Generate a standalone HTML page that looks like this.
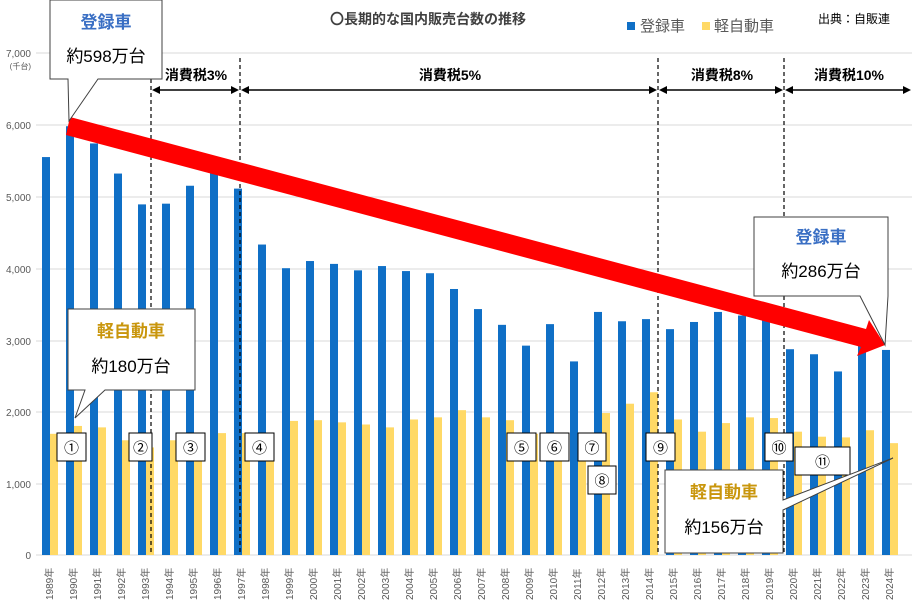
<!DOCTYPE html>
<html><head><meta charset="utf-8"><style>
html,body{margin:0;padding:0;background:#fff;}
svg{display:block;font-family:"Liberation Sans","Noto Sans CJK JP",sans-serif;}
</style></head><body>
<svg id="s" width="912" height="608" viewBox="0 0 912 608" xmlns="http://www.w3.org/2000/svg">
<rect width="912" height="608" fill="#fff"/>
<g id="grid" stroke="#d9d9d9" stroke-width="1"></g>
<g id="bars"></g>
<g id="xl" font-size="10" fill="#595959"></g>
<g font-size="10" fill="#595959" text-anchor="end">
<text x="31" y="57">7,000</text><text x="31" y="69" font-size="8">(千台)</text>
<text x="31" y="129">6,000</text><text x="31" y="201">5,000</text><text x="31" y="273">4,000</text>
<text x="31" y="345">3,000</text><text x="31" y="416">2,000</text><text x="31" y="488">1,000</text><text x="31" y="559">0</text>
</g>
<text x="330" y="24" font-size="14" fill="#404040" font-weight="bold">〇長期的な国内販売台数の推移</text>
<rect x="627" y="22" width="8" height="8" fill="#0f6fc6"/>
<text x="640" y="31" font-size="15" fill="#595959">登録車</text>
<rect x="702" y="22" width="8" height="8" fill="#ffd966"/>
<text x="714" y="31" font-size="15" fill="#595959">軽自動車</text>
<text x="818" y="23" font-size="12" fill="#000">出典：自販連</text>
<g stroke="#000" stroke-dasharray="4,3" stroke-width="1.2">
<line x1="151" y1="58" x2="151" y2="555"/><line x1="240" y1="58" x2="240" y2="555"/>
<line x1="658" y1="58" x2="658" y2="555"/><line x1="784" y1="58" x2="784" y2="555"/>
</g>
<g stroke="#000" stroke-width="1.5">
<line x1="154" y1="90" x2="237" y2="90"/><line x1="243" y1="90" x2="655" y2="90"/>
<line x1="661" y1="90" x2="781" y2="90"/><line x1="787" y1="90" x2="908" y2="90"/>
</g>
<g fill="#000">
<polygon points="152,90 160,86 160,94"/><polygon points="239,90 231,86 231,94"/>
<polygon points="241,90 249,86 249,94"/><polygon points="657,90 649,86 649,94"/>
<polygon points="659,90 667,86 667,94"/><polygon points="783,90 775,86 775,94"/>
<polygon points="785,90 793,86 793,94"/><polygon points="911,90 903,86 903,94"/>
</g>
<g font-size="14" font-weight="bold" text-anchor="middle" fill="#000">
<text x="196" y="80">消費税3%</text><text x="450" y="80">消費税5%</text>
<text x="722" y="80">消費税8%</text><text x="849" y="80">消費税10%</text>
</g>
<polygon points="70,117 866,329 869,320 885,345 857,356 861,347 66,135" fill="#ff0000"/>
<g id="nums" font-size="15" text-anchor="middle"></g>
<g stroke="#404040" stroke-width="1" fill="#fff">
<polygon points="50,0 162,0 162,79 98,79 69,121 68,79 50,79"/>
<polygon points="68,309 195,309 195,390 105,390 75,418 85,390 68,390"/>
<polygon points="754,217 888,217 888,296 885,345 860,296 754,296"/>
<polygon points="665,470 783,470 783,500 893,458 783,510 783,553 665,553"/>
</g>
<g font-weight="bold" font-size="17" text-anchor="middle">
<text x="106" y="28" fill="#3a6fc4">登録車</text>
<text x="131" y="337" fill="#c9960c">軽自動車</text>
<text x="821" y="243" fill="#3a6fc4">登録車</text>
<text x="724" y="498" fill="#c9960c">軽自動車</text>
</g>
<g font-size="17" text-anchor="middle" fill="#000">
<text x="106" y="62">約598万台</text>
<text x="131" y="372">約180万台</text>
<text x="821" y="277">約286万台</text>
<text x="724" y="533">約156万台</text>
</g>
</svg>
<script>
var s='http://www.w3.org/2000/svg';
function el(p,t,a,txt){var e=document.createElementNS(s,t);for(var k in a)e.setAttribute(k,a[k]);if(txt)e.textContent=txt;document.getElementById(p).appendChild(e);return e;}
[53,125,197,269,341,412,484,555].forEach(function(y){el('grid','line',{x1:36,x2:912,y1:y,y2:y});});
var B=[5550,5980,5740,5320,4890,4900,5150,5340,5110,4330,4000,4100,4060,3970,4030,3960,3930,3710,3430,3210,2920,3220,2700,3390,3260,3290,3150,3250,3390,3340,3280,2870,2800,2560,2990,2860];
var Y=[1690,1800,1780,1600,1500,1600,1500,1700,1700,1450,1870,1880,1850,1820,1780,1890,1920,2020,1920,1880,1690,1700,1500,1980,2110,2270,1890,1720,1840,1920,1910,1720,1650,1640,1740,1560];
var k=0.0717;
for(var i=0;i<36;i++){var c=50+24*i;
el('bars','rect',{x:c-8,y:555-B[i]*k,width:8,height:B[i]*k,fill:'#0f6fc6'});
el('bars','rect',{x:c,y:555-Y[i]*k,width:8,height:Y[i]*k,fill:'#ffd966'});
var t=el('xl','text',{transform:'translate('+(c+3)+',600) rotate(-90)'},(1989+i)+'年');}
var N=[[57,433,29,'①'],[129,433,23,'②'],[176,433,29,'③'],[245,433,29,'④'],[507,433,29,'⑤'],[540,433,29,'⑥'],[578,433,28,'⑦'],[588,466,28,'⑧'],[646,433,29,'⑨'],[765,433,28,'⑩'],[795,447,55,'⑪']];
N.forEach(function(n){el('nums','rect',{x:n[0],y:n[1],width:n[2],height:28,fill:'#fff',stroke:'#000'});el('nums','text',{x:n[0]+n[2]/2,y:n[1]+20},n[3]);});
</script>
</body></html>
